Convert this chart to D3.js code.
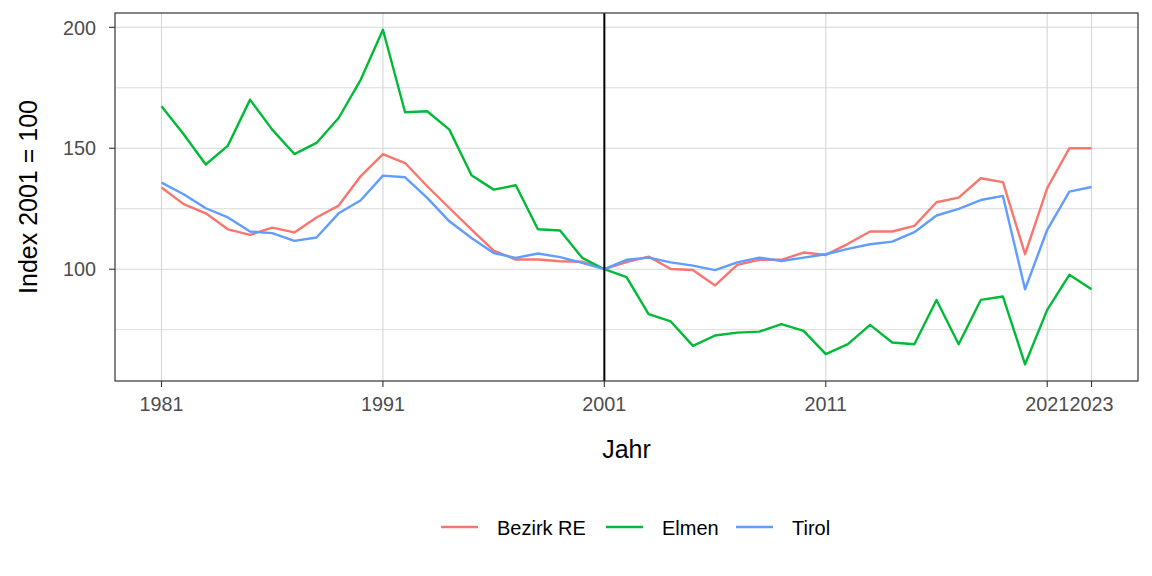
<!DOCTYPE html>
<html><head><meta charset="utf-8">
<script src="https://cdn.jsdelivr.net/npm/d3@7"></script>
<style>body{margin:0;background:#fff}svg{display:block}text{font-family:"Liberation Sans",Arial,sans-serif}</style>
</head><body><svg id="c" width="1152" height="576"></svg>
<script>
const years = d3.range(1981, 2024);
const seriesNames = ["Bezirk RE", "Elmen", "Tirol"];
const colors = ["#F8766D", "#00BA38", "#619CFF"];
const bezirkRE = [133.8,126.9,123.1,116.5,114.2,117.2,115.2,121.4,126.3,138.5,147.6,143.9,134.3,125.3,116.4,107.7,104.0,104.0,103.3,103.1,100,
  102.9,105.2,100.1,99.7,93.3,101.8,103.9,103.9,106.9,105.9,110.5,115.6,115.6,117.9,127.7,129.6,137.6,136.0,106.2,133.5,150.0,150.0];
const elmen = [167.4,155.8,143.3,151.1,170.1,157.7,147.6,152.2,162.5,178.4,199.0,164.9,165.3,157.7,138.8,132.9,134.7,116.5,116.0,104.7,100,
  96.7,81.4,78.4,68.3,72.6,73.8,74.2,77.3,74.5,64.9,69.0,77.0,69.7,69.0,87.3,69.0,87.3,88.7,60.7,83.2,97.7,91.7];
const tirol = [135.8,131.0,125.2,121.4,115.6,114.9,111.7,113.1,123.1,128.5,138.7,138.0,129.5,119.8,112.9,106.7,104.7,106.5,105.0,102.6,100,
  103.9,104.8,102.8,101.5,99.6,102.8,104.8,103.4,104.8,106.2,108.4,110.3,111.4,115.3,122.2,124.9,128.6,130.3,91.7,116.3,132.1,134.0];
const xBreaks = [1981, 1991, 2001, 2011, 2021, 2023];
const yBreaks = [100, 150, 200];
const yMinor = [75, 125, 175];
const refYear = 2001;

const data = [bezirkRE, elmen, tirol];
const svg = d3.select("#c");
const L = 115, R = 1138, T = 13, B = 381;
const allV = data.flat();
const ymin = d3.min(allV), ymax = d3.max(allV), yr = ymax - ymin;
const x = d3.scaleLinear().domain([1981 - 42*0.05, 2023 + 42*0.05]).range([L, R]);
const y = d3.scaleLinear().domain([ymin - yr*0.05, ymax + yr*0.05]).range([B, T]);

const g = svg.append("g");
// grid
g.selectAll(".ymn").data(yMinor).join("line").attr("x1", L).attr("x2", R)
  .attr("y1", d => y(d)).attr("y2", d => y(d)).attr("stroke", "#dcdcdc").attr("stroke-width", 1);
g.selectAll(".ymj").data(yBreaks).join("line").attr("x1", L).attr("x2", R)
  .attr("y1", d => y(d)).attr("y2", d => y(d)).attr("stroke", "#d6d6d6").attr("stroke-width", 1.1);
g.selectAll(".xmj").data(xBreaks).join("line").attr("y1", T).attr("y2", B)
  .attr("x1", d => x(d)).attr("x2", d => x(d)).attr("stroke", "#d6d6d6").attr("stroke-width", 1.1);

// lines
const line = d3.line().x((d, i) => x(years[i])).y(d => y(d));
data.forEach((s, k) => {
  g.append("path").datum(s).attr("d", line).attr("fill", "none")
    .attr("stroke", colors[k]).attr("stroke-width", 2.4).attr("stroke-linejoin", "round");
});
// reference line
g.append("line").attr("x1", x(refYear)).attr("x2", x(refYear)).attr("y1", T).attr("y2", B)
  .attr("stroke", "#000").attr("stroke-width", 2);

// panel border
g.append("rect").attr("x", L).attr("y", T).attr("width", R - L).attr("height", B - T)
  .attr("fill", "none").attr("stroke", "#333").attr("stroke-width", 1.2);

// x axis
const xa = svg.append("g");
xa.selectAll("line").data(xBreaks).join("line").attr("x1", d => x(d)).attr("x2", d => x(d))
  .attr("y1", B).attr("y2", B + 6).attr("stroke", "#333").attr("stroke-width", 1.1);
xa.selectAll("text").data(xBreaks).join("text").attr("x", d => x(d)).attr("y", 411)
  .attr("text-anchor", "middle").attr("font-size", 19.8).attr("fill", "#4d4d4d").text(d => d);
// y axis
const ya = svg.append("g");
ya.selectAll("line").data(yBreaks).join("line").attr("y1", d => y(d)).attr("y2", d => y(d))
  .attr("x1", L - 6).attr("x2", L).attr("stroke", "#333").attr("stroke-width", 1.1);
ya.selectAll("text").data(yBreaks).join("text").attr("x", 96).attr("y", d => y(d) + 7.2)
  .attr("text-anchor", "end").attr("font-size", 19.8).attr("fill", "#4d4d4d").text(d => d);

// titles
svg.append("text").attr("x", (L + R) / 2).attr("y", 458).attr("text-anchor", "middle")
  .attr("font-size", 25).text("Jahr");
svg.append("text").attr("transform", `translate(37,${(T + B) / 2}) rotate(-90)`).attr("text-anchor", "middle")
  .attr("font-size", 25).text("Index 2001 = 100");

// legend
const lx = [441, 606, 736];
const lg = svg.append("g");
seriesNames.forEach((n, k) => {
  lg.append("line").attr("x1", lx[k]).attr("x2", lx[k] + 37).attr("y1", 527).attr("y2", 527)
    .attr("stroke", colors[k]).attr("stroke-width", 2.4);
  lg.append("text").attr("x", lx[k] + 56).attr("y", 535).attr("font-size", 20).text(n);
});
</script></body></html>
